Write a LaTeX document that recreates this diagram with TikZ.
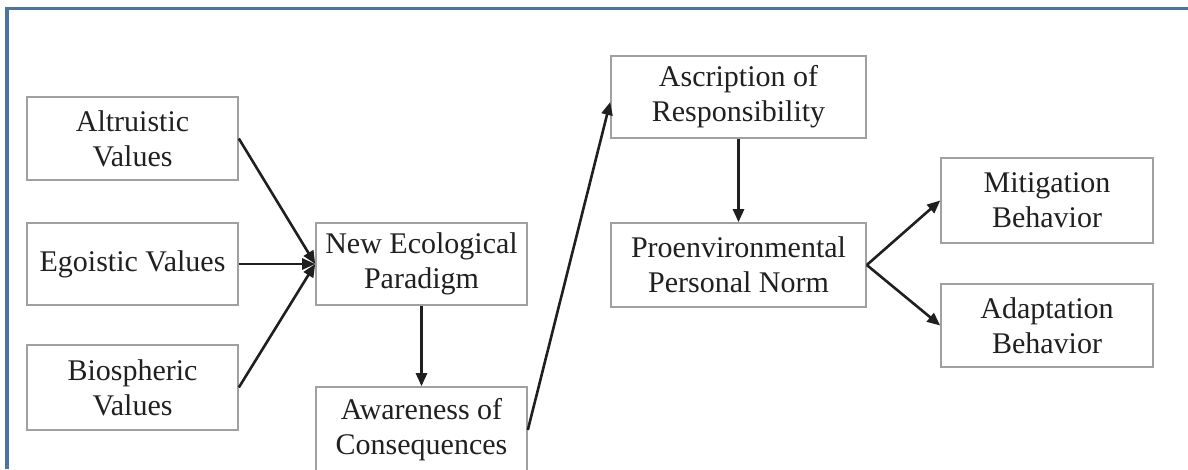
\documentclass[tikz,border=0pt]{standalone}
\usepackage{fontspec}
\setmainfont{Liberation Serif}
\usetikzlibrary{arrows.meta}
\definecolor{frameblue}{HTML}{4A74A2}
\definecolor{boxgray}{HTML}{A0A0A0}
\definecolor{txt}{HTML}{202020}
\tikzset{
  box/.style={draw=boxgray, line width=1.6pt, fill=white, align=center, text=txt,
    font=\fontsize{30}{35}\selectfont, inner sep=0pt},
  conn/.style={line width=2.6pt, draw=black!88, -{Triangle[length=13pt,width=11pt]}},
}
\begin{document}
\begin{tikzpicture}[x=1pt,y=-1pt]
\useasboundingbox (0,0) rectangle (1188,469);
\fill[white] (0,0) rectangle (1188,469);
\draw[frameblue, line width=3.5pt] (7,469) -- (7,8.5) -- (1188,8.5);

\node[box, minimum width=211pt, minimum height=83pt] (alt) at (132.5,138.5) {Altruistic\\Values};
\node[box, minimum width=211pt, minimum height=82pt] (ego) at (132.5,264) {Egoistic Values};
\node[box, minimum width=211pt, minimum height=85pt] (bio) at (132.5,387.5) {Biospheric\\Values};
\node[box, minimum width=211pt, minimum height=82pt] (nep) at (421.5,264) {New Ecological\\Paradigm};
\node[box, minimum width=211pt, minimum height=86pt] (awa) at (421.5,430) {Awareness of\\Consequences};
\node[box, minimum width=255pt, minimum height=82pt] (asc) at (738.5,97) {Ascription of\\Responsibility};
\node[box, minimum width=255pt, minimum height=84pt] (pro) at (738.5,265) {Proenvironmental\\Personal Norm};
\node[box, minimum width=212pt, minimum height=85pt] (mit) at (1047,200.5) {Mitigation\\Behavior};
\node[box, minimum width=212pt, minimum height=83pt] (ada) at (1047,325.5) {Adaptation\\Behavior};

\draw[conn] (alt.east) -- (nep.west);
\draw[conn] (ego.east) -- (nep.west);
\draw[conn] (bio.east) -- (nep.west);
\draw[conn] (nep.south) -- (awa.north);
\draw[conn] (awa.east) -- ([yshift=-5pt]asc.west);
\draw[conn] (asc.south) -- (pro.north);
\draw[conn] (pro.east) -- (mit.west);
\draw[conn] (pro.east) -- (ada.west);
\end{tikzpicture}
\end{document}
